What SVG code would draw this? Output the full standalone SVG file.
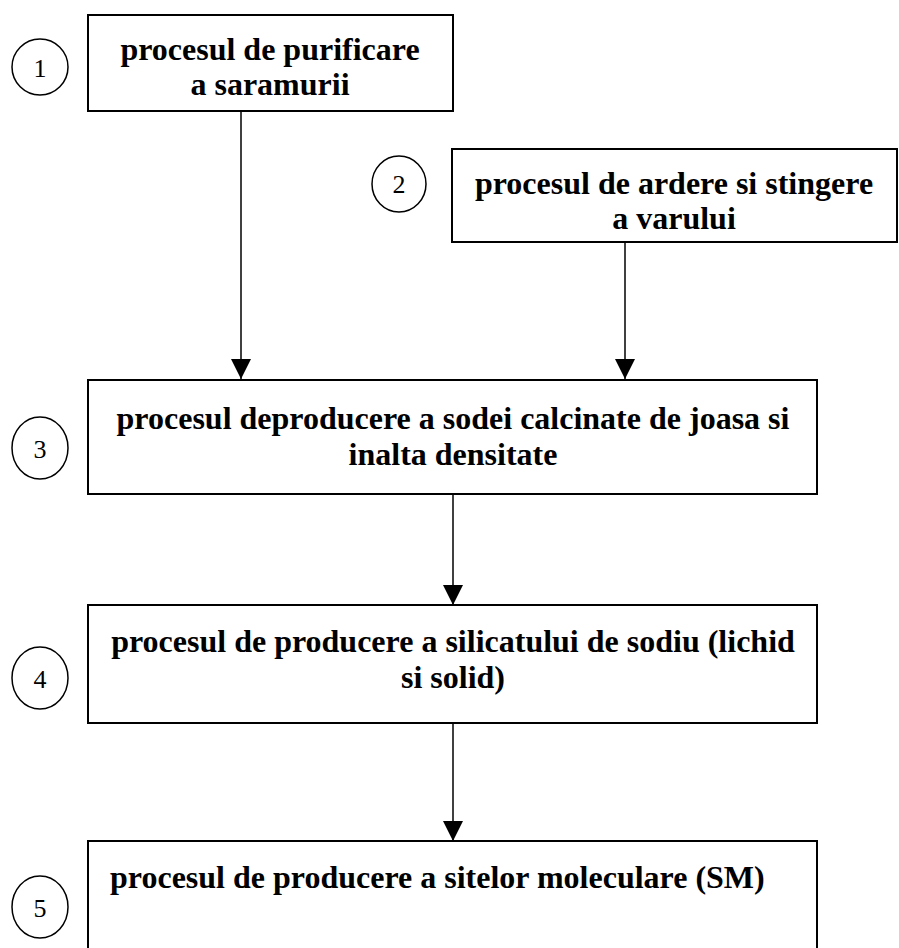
<svg xmlns="http://www.w3.org/2000/svg" width="899" height="948" viewBox="0 0 899 948">
<defs>
<style>
.box{fill:#fff;stroke:#000;stroke-width:2}
.circ{fill:#fff;stroke:#000;stroke-width:1.5}
.t{font-family:"Liberation Serif","Times New Roman",serif;font-weight:bold;font-size:32px;fill:#000}
.n{font-family:"Liberation Serif","Times New Roman",serif;font-size:26px;fill:#000;text-anchor:middle}
.c{text-anchor:middle}
.edge{stroke:#000;stroke-width:1.5;fill:none;marker-end:url(#ah)}
</style>
<marker id="ah" markerWidth="20" markerHeight="20" refX="20" refY="10" orient="auto" markerUnits="userSpaceOnUse">
<path d="M0,0 L20,10 L0,20 Z" fill="#000"/>
</marker>
</defs>
<rect width="899" height="948" fill="#fff"/>
<g id="connectors">
<line class="edge" x1="241" y1="111" x2="241" y2="379"/>
<line class="edge" x1="625" y1="242" x2="625" y2="379"/>
<line class="edge" x1="453" y1="494" x2="453" y2="605"/>
<line class="edge" x1="453" y1="723" x2="453" y2="841"/>
</g>
<g id="n1">
<rect class="box" x="88" y="15" width="365" height="96"/>
<text class="t c" x="270" y="60">procesul de purificare</text>
<text class="t c" x="270" y="95">a saramurii</text>
</g>
<g id="c1"><ellipse class="circ" cx="40" cy="67" rx="28" ry="28"/><text class="n" x="40" y="77">1</text></g>
<g id="n2">
<rect class="box" x="452" y="149" width="445" height="93"/>
<text class="t c" x="674" y="194">procesul de ardere si stingere</text>
<text class="t c" x="674" y="229">a varului</text>
</g>
<g id="c2"><ellipse class="circ" cx="399" cy="184" rx="27" ry="28"/><text class="n" x="399" y="193">2</text></g>
<g id="n3">
<rect class="box" x="88" y="380" width="729" height="114"/>
<text class="t c" x="453" y="429">procesul deproducere a sodei calcinate de joasa si</text>
<text class="t c" x="453" y="465">inalta densitate</text>
</g>
<g id="c3"><ellipse class="circ" cx="40" cy="448" rx="28" ry="31"/><text class="n" x="40" y="458">3</text></g>
<g id="n4">
<rect class="box" x="88" y="605" width="729" height="118"/>
<text class="t c" x="453" y="652">procesul de producere a silicatului de sodiu (lichid</text>
<text class="t c" x="453" y="688">si solid)</text>
</g>
<g id="c4"><ellipse class="circ" cx="40" cy="678" rx="28" ry="31"/><text class="n" x="40" y="688">4</text></g>
<g id="n5">
<rect class="box" x="88" y="841" width="729" height="120"/>
<text class="t" x="110" y="888">procesul de producere a sitelor moleculare (SM)</text>
</g>
<g id="c5"><ellipse class="circ" cx="40" cy="907" rx="28" ry="31"/><text class="n" x="40" y="917">5</text></g>
</svg>
